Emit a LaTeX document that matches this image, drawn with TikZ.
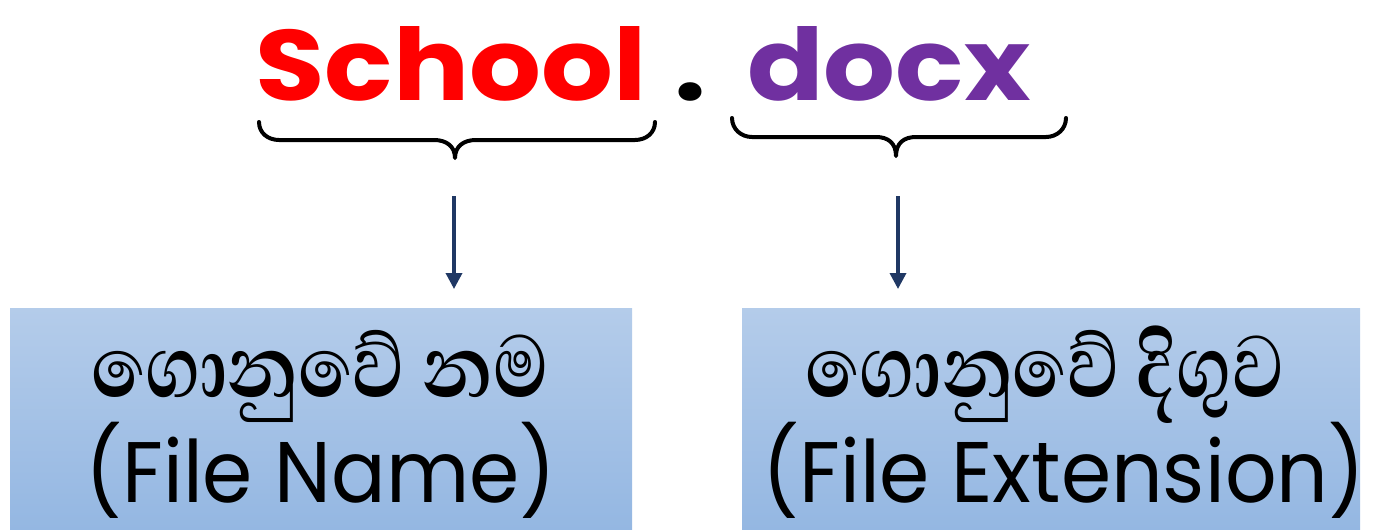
\documentclass[tikz,border=0pt]{standalone}
\usepackage{fontspec}
\setmainfont{Poppins}
\newfontfamily\sinhalafnt[Script=Sinhala,FakeStretch=0.82]{Abhaya Libre}
\newfontfamily\widepop[FakeStretch=1.13]{Poppins}
\newfontfamily\narrowpop[FakeStretch=0.94]{Poppins}
\usetikzlibrary{arrows.meta}
\definecolor{fnred}{HTML}{FF0000}
\definecolor{extpurple}{HTML}{7030A0}
\definecolor{arrownavy}{HTML}{203864}
\definecolor{boxtop}{HTML}{B4CCEA}
\definecolor{boxbot}{HTML}{94B7E2}
\tikzset{
  bigword/.style={font=\widepop\fontsize{100}{100}\selectfont\bfseries, inner sep=0pt, anchor=base},
  bracepath/.style={line width=4pt, line cap=round, line join=round},
  downarrow/.style={draw=arrownavy, line width=3.5pt, -{Triangle[length=16pt,width=16pt]}},
  infobox/.style={top color=boxtop, bottom color=boxbot, draw=none, inner sep=0pt, anchor=north west},
  sinline/.style={font=\sinhalafnt\bfseries\fontsize{112}{112}\selectfont, inner sep=0pt, anchor=base},
  engline/.style={font=\narrowpop\fontsize{86}{86}\selectfont, inner sep=0pt, anchor=base},
}
\begin{document}
\begin{tikzpicture}[x=1pt,y=-1pt]
\useasboundingbox (0,0) rectangle (1376,530);
% top words
\node[bigword, text=fnred] (school) at (451,100) {School};
\node[bigword, text=black] (dot) at (690,100) {.};
\node[bigword, text=extpurple] (docx) at (889,100) {docx};
% braces
\draw[bracepath] (259,122) .. controls (259,133) and (268,140) .. (279,140)
  -- (434,140) .. controls (446,140) and (455,146) .. (455,158)
  .. controls (455,146) and (464,140) .. (476,140)
  -- (635,140) .. controls (646,140) and (655,133) .. (655,122);
\draw[bracepath] (732,118) .. controls (732,129) and (741,137) .. (752,137)
  -- (876,137) .. controls (888,137) and (896,143) .. (896,156)
  .. controls (896,143) and (904,137) .. (916,137)
  -- (1046,137) .. controls (1057,137) and (1066,129) .. (1066,118);
\coordinate (b1) at (454,196);
\coordinate (b2) at (898,196);
\coordinate (t1) at (454,289);
\coordinate (t2) at (898,289);
% boxes
\node[infobox, minimum width=622pt, minimum height=222pt] (box1) at (10,308) {};
\node[infobox, minimum width=618pt, minimum height=222pt] (box2) at (742,308) {};
\draw[downarrow] (b1) -- (t1);
\draw[downarrow] (b2) -- (t2);
% box texts
\node[sinline] (s1) at (320,397) {ගොනුවේ නම};
\node[engline] (e1) at (321,502) {(File Name)};
\node[sinline] (s2) at (1045,397) {ගොනුවේ දිගුව};
\node[engline] (e2) at (1064,502) {(File Extension)};
\end{tikzpicture}
\end{document}
